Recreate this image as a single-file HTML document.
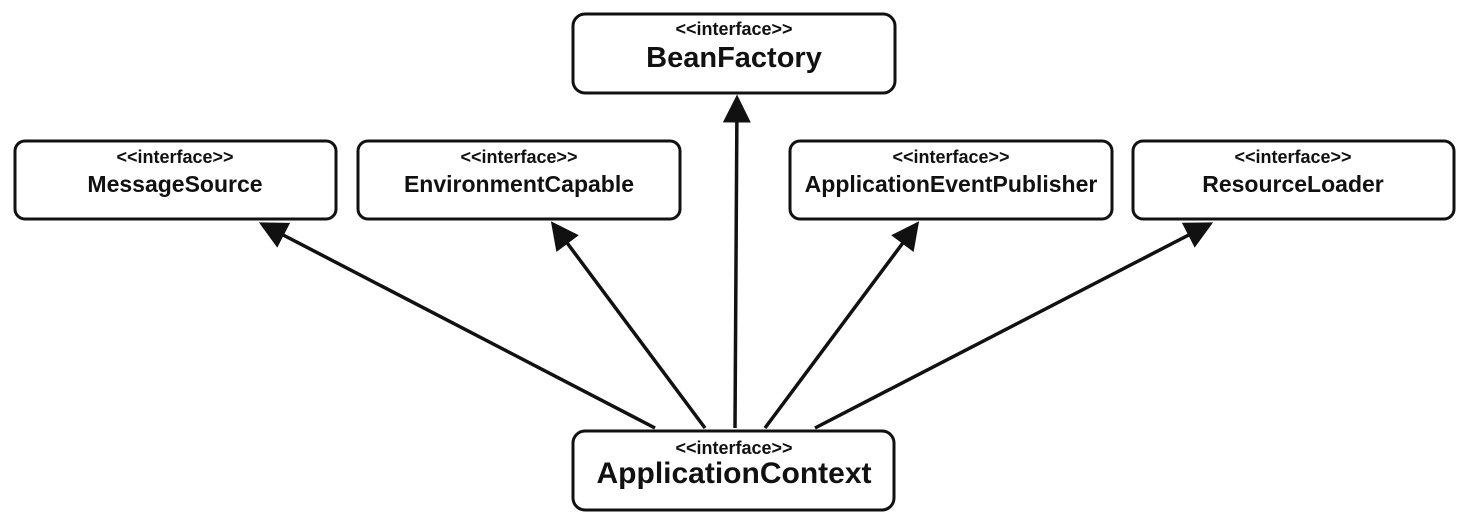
<!DOCTYPE html>
<html><head><style>
body{margin:0;background:#fff;width:1466px;height:524px;overflow:hidden;font-family:"Liberation Sans",Arial,sans-serif}
</style></head><body>
<svg width="1466" height="524" xmlns="http://www.w3.org/2000/svg" font-family="Liberation Sans, Arial, sans-serif">
<defs><marker id="a" markerWidth="8" markerHeight="8" refX="7" refY="4" orient="auto" markerUnits="strokeWidth"><path d="M0,0 L8,4 L0,8 z" fill="#111"/></marker></defs>
<g fill="#fff" stroke="#111" stroke-width="3">
<rect x="573" y="14" width="322" height="79" rx="12"/>
<rect x="15" y="141" width="321" height="78" rx="10"/>
<rect x="358" y="141" width="322" height="78" rx="10"/>
<rect x="790" y="141" width="322" height="78" rx="10"/>
<rect x="1133" y="141" width="321" height="78" rx="10"/>
<rect x="573" y="431" width="321" height="79" rx="12"/>
</g>
<g stroke="#111" stroke-width="3.5" marker-end="url(#a)" fill="none">
<line x1="655" y1="428" x2="262" y2="224"/>
<line x1="705" y1="428" x2="553" y2="224"/>
<line x1="735" y1="428" x2="737" y2="98"/>
<line x1="765" y1="428" x2="917" y2="224"/>
<line x1="815" y1="428" x2="1210" y2="224"/>
</g>
<g text-anchor="middle" fill="#111" font-weight="bold">
<text x="734" y="35" font-size="18">&lt;&lt;interface&gt;&gt;</text>
<text x="734" y="67" font-size="29">BeanFactory</text>
<text x="175" y="163" font-size="18">&lt;&lt;interface&gt;&gt;</text>
<text x="175" y="192" font-size="23">MessageSource</text>
<text x="519" y="163" font-size="18">&lt;&lt;interface&gt;&gt;</text>
<text x="519" y="192" font-size="23">EnvironmentCapable</text>
<text x="951" y="163" font-size="18">&lt;&lt;interface&gt;&gt;</text>
<text x="951" y="192" font-size="23">ApplicationEventPublisher</text>
<text x="1293" y="163" font-size="18">&lt;&lt;interface&gt;&gt;</text>
<text x="1293" y="192" font-size="23">ResourceLoader</text>
<text x="734" y="454" font-size="18">&lt;&lt;interface&gt;&gt;</text>
<text x="734" y="483" font-size="30">ApplicationContext</text>
</g>
</svg>
</body></html>
